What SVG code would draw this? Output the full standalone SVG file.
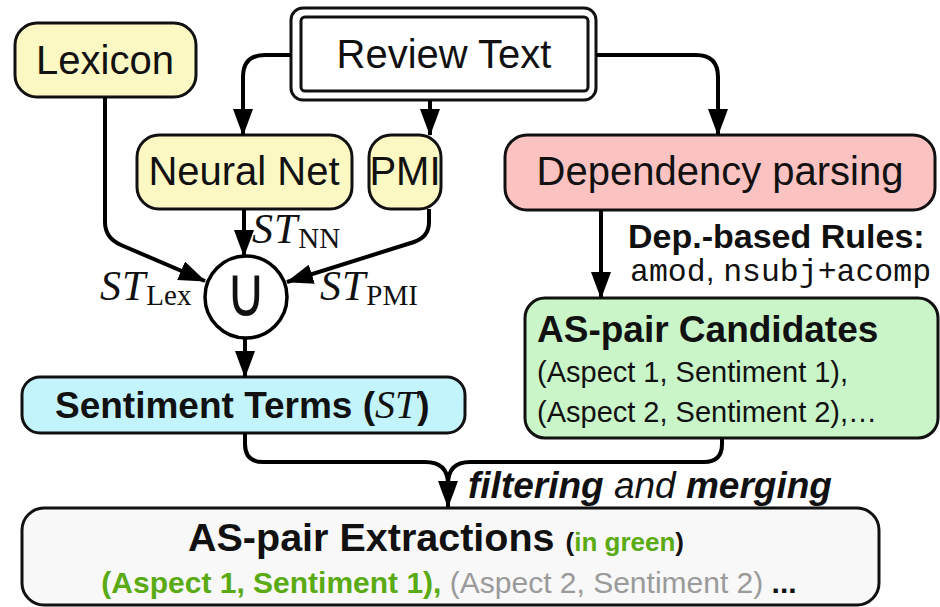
<svg xmlns="http://www.w3.org/2000/svg" width="940" height="607" viewBox="0 0 940 607">
<style>
.box{stroke:#111;stroke-width:3}
.lbl{font-family:"Liberation Sans",Arial,sans-serif;font-size:40px;fill:#111;text-anchor:middle}
.b{font-family:"Liberation Sans",Arial,sans-serif;font-weight:bold;fill:#111}
.r{font-family:"Liberation Sans",Arial,sans-serif;fill:#111}
.m{font-family:"Liberation Serif","Times New Roman",serif;fill:#111}
.mono{font-family:"Liberation Mono","Courier New",monospace;fill:#111}
.con{fill:none;stroke:#000;stroke-width:4}
.g{fill:#5aaa14}
.gr{fill:#9a9a9a}
</style>
<defs>
<marker id="arr" markerUnits="userSpaceOnUse" markerWidth="27" markerHeight="20" viewBox="0 0 27 20" refX="26" refY="10" orient="auto">
<path d="M0,0 L27,10 L0,20 z" fill="#000"/>
</marker>
</defs>
<g id="review-text">
<rect x="291" y="8" width="305" height="92" rx="12" fill="#fff" class="box"/>
<rect x="301" y="17" width="287" height="74" rx="4" fill="#fff" class="box"/>
<text x="444" y="68" class="lbl">Review Text</text>
</g>
<g id="lexicon">
<rect x="15" y="23" width="181" height="74" rx="22" fill="#fcf8c4" class="box"/>
<text x="105" y="74" class="lbl">Lexicon</text>
</g>
<g id="neural-net">
<rect x="137" y="135" width="215" height="74" rx="22" fill="#fcf8c4" class="box"/>
<text x="244" y="185" class="lbl">Neural Net</text>
</g>
<g id="pmi">
<rect x="369" y="135" width="72" height="74" rx="22" fill="#fcf8c4" class="box"/>
<text x="405" y="185" class="lbl">PMI</text>
</g>
<g id="dependency-parsing">
<rect x="505" y="135" width="430" height="75" rx="22" fill="#fbc2c2" class="box"/>
<text x="720" y="185" class="lbl">Dependency parsing</text>
</g>
<g id="union">
<circle cx="246" cy="297" r="41" fill="#fff" stroke="#000" stroke-width="3.5"/>
<text transform="translate(246,316) scale(1,1.25)" text-anchor="middle" style="font-family:'DejaVu Sans',sans-serif;font-size:56px;fill:#111">∪</text>
</g>
<g id="sentiment-terms">
<rect x="22" y="377" width="443" height="56" rx="18" fill="#c4f4fb" class="box"/>
<text x="55" y="418" class="b" style="font-size:37px">Sentiment Terms (<tspan class="m" style="font-style:italic;font-weight:normal;font-size:40px">ST</tspan>)</text>
</g>
<g id="as-pair-candidates">
<rect x="525" y="298" width="413" height="140" rx="20" fill="#c9f5c9" class="box"/>
<text x="537" y="342" class="b" style="font-size:37px">AS-pair Candidates</text>
<text x="537" y="382" class="r" style="font-size:29px">(Aspect 1, Sentiment 1),</text>
<text x="537" y="422" class="r" style="font-size:29px">(Aspect 2, Sentiment 2),…</text>
</g>
<g id="as-pair-extractions">
<rect x="22" y="508" width="857" height="97" rx="22" fill="#f8f8f8" class="box"/>
<text x="436" y="551" text-anchor="middle" class="b" style="font-size:39.5px">AS-pair Extractions <tspan style="font-size:26px">(<tspan class="g">in green</tspan>)</tspan></text>
<text x="449" y="593" text-anchor="middle" class="r" style="font-size:30px"><tspan class="g" font-weight="bold">(Aspect 1, Sentiment 1),</tspan> <tspan class="gr">(Aspect 2, Sentiment 2)</tspan> <tspan font-weight="bold">...</tspan></text>
</g>
<g id="labels">
<text x="252" y="243" class="m" style="font-size:42px"><tspan font-style="italic" letter-spacing="1">ST</tspan><tspan style="font-size:29px" dy="5">NN</tspan></text>
<text x="320" y="300" class="m" style="font-size:42px"><tspan font-style="italic" letter-spacing="1">ST</tspan><tspan style="font-size:29px" dy="5">PMI</tspan></text>
<text x="100" y="300" class="m" style="font-size:42px"><tspan font-style="italic" letter-spacing="1">ST</tspan><tspan style="font-size:29px" dy="5">Lex</tspan></text>
<text x="628" y="248" class="b" style="font-size:34px">Dep.-based Rules:</text>
<text x="630" y="281" style="font-size:31.5px"><tspan class="mono">amod</tspan><tspan class="r">, </tspan><tspan class="mono">nsubj+acomp</tspan></text>
<text x="468" y="498" class="b" style="font-size:37px;font-style:italic">filtering <tspan font-weight="normal">and</tspan> merging</text>
</g>
<g id="connectors">
<path class="con" marker-end="url(#arr)" d="M291 55 H265 Q243 55 243 77 V135"/>
<path class="con" marker-end="url(#arr)" d="M430 100 V135"/>
<path class="con" marker-end="url(#arr)" d="M596 55 H696 Q718 55 718 77 V135"/>
<path class="con" marker-end="url(#arr)" d="M105 97 V222 Q105 238 121 245 L205 281"/>
<path class="con" marker-end="url(#arr)" d="M244 209 V256"/>
<path class="con" marker-end="url(#arr)" d="M429 209 V222 Q429 237 414 242 L287 282"/>
<path class="con" marker-end="url(#arr)" d="M245 338 V377"/>
<path class="con" marker-end="url(#arr)" d="M601 210 V298"/>
<path class="con" d="M245 433 V444 Q245 462 263 462 H425 Q448 462 448 484"/>
<path class="con" marker-end="url(#arr)" d="M722 438 V444 Q722 462 704 462 H470 Q448 462 448 484 V507"/>
</g>
</svg>
